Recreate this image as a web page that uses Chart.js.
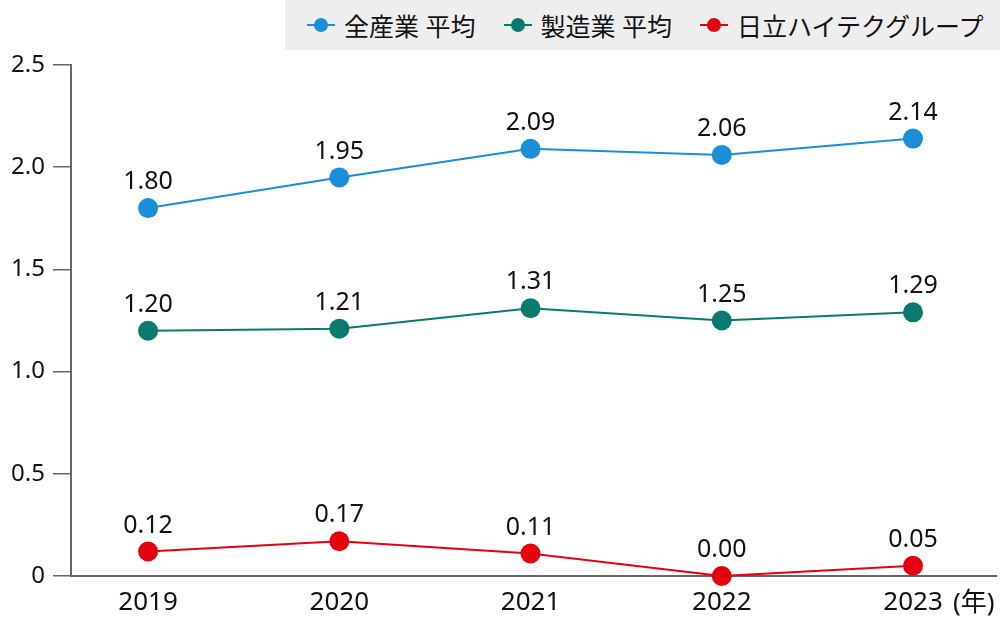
<!DOCTYPE html>
<html>
<head>
<meta charset="utf-8">
<script src="https://cdn.jsdelivr.net/npm/chart.js@4/dist/chart.umd.min.js"></script>
<style>
  html, body { margin: 0; padding: 0; background: #fff; }
  #wrap { position: relative; width: 1000px; height: 621px; font-family: 'Noto Sans', 'Noto Sans CJK JP', sans-serif; }
  #legend { position: absolute; left: 285px; top: 0; width: 715px; height: 50px; background: #eeeeee;
            display: flex; align-items: center; padding-left: 22px; box-sizing: border-box; }
  .item { display: flex; flex: none; white-space: nowrap; align-items: center; margin-right: 28px; font-size: 25px; color: #111; }
  .mk { position: relative; width: 28px; height: 14px; margin-right: 9px; }
  .mk .ln { position: absolute; left: 0; right: 0; top: 6px; height: 2px; }
  .mk .dot { position: absolute; left: 7px; top: 0px; width: 14px; height: 14px; border-radius: 50%; }
</style>
</head>
<body>
<div id="wrap">
  <canvas id="c" width="1000" height="621"></canvas>
  <div id="legend"></div>
</div>
<script>
const years = [2019, 2020, 2021, 2022, 2023];
const allIndustry = [1.80, 1.95, 2.09, 2.06, 2.14];
const manufacturing = [1.20, 1.21, 1.31, 1.25, 1.29];
const hitachiHigh = [0.12, 0.17, 0.11, 0.00, 0.05];
const seriesNames = ['全産業 平均', '製造業 平均', '日立ハイテクグループ'];
const seriesColors = ['#1a8fd8', '#0b7a6e', '#e5000f'];
const yTicks = [0, 0.5, 1.0, 1.5, 2.0, 2.5];
const yearUnit = '(年)';

const font = "'Noto Sans', 'Noto Sans CJK JP', sans-serif";

function mkSet(i, vals) {
    return {
	label: seriesNames[i],
	data: years.map((y, k) => ({x: y, y: vals[k]})),
	borderColor: seriesColors[i],
	backgroundColor: seriesColors[i],
	borderWidth: 2,
	pointRadius: 10,
	pointHoverRadius: 10,
	pointBorderWidth: 0,
	clip: false
    };
}

// value labels above points + the (年) unit after the last year
const labelPlugin = {
    id: 'labels',
    afterDatasetsDraw(chart) {
	const ctx = chart.ctx;
	ctx.save();
	ctx.font = '25px ' + font;
	ctx.fillStyle = '#111';
	ctx.textAlign = 'center';
	ctx.textBaseline = 'middle';
	chart.data.datasets.forEach((ds, i) => {
	    chart.getDatasetMeta(i).data.forEach((pt, k) => {
		ctx.fillText(ds.data[k].y.toFixed(2), pt.x, pt.y - 26);
	    });
	});
	const xs = chart.scales.x;
	const lastX = xs.getPixelForValue(years[years.length - 1]);
	ctx.font = '26px ' + font;
	ctx.textAlign = 'left';
	ctx.fillText(yearUnit, lastX + 40, 604);
	ctx.restore();
    }
};

new Chart(document.getElementById('c'), {
    type: 'line',
    data: {
	datasets: [
	    mkSet(0, allIndustry),
	    mkSet(1, manufacturing),
	    mkSet(2, hitachiHigh)
	]
    },
    options: {
	responsive: false,
	animation: false,
	layout: { autoPadding: false, padding: { top: 65, right: 4, left: 0, bottom: 0 } },
	plugins: { legend: { display: false }, tooltip: { enabled: false } },
	scales: {
	    x: {
		type: 'linear',
		min: 2018.597,
		max: 2023.434,
		afterBuildTicks: a => { a.ticks = years.map(v => ({value: v})); },
		afterFit: a => { a.height = 45; a.paddingLeft = 0; a.paddingRight = 0; },
		grid: { drawOnChartArea: false, drawTicks: false },
		border: { display: true, color: '#666', width: 2 },
		ticks: { padding: 11, color: '#111', font: { family: font, size: 26 }, callback: v => String(v) }
	    },
	    y: {
		min: 0,
		max: 2.5,
		afterBuildTicks: a => { a.ticks = yTicks.map(v => ({value: v})); },
		afterFit: a => { a.width = 71; },
		grid: { drawOnChartArea: false, drawTicks: true, tickLength: 18, color: '#666', lineWidth: 1.5 },
		border: { display: true, color: '#666', width: 2 },
		ticks: { padding: 8, color: '#111', font: { family: font, size: 24 },
			 callback: v => v === 0 ? '0' : v.toFixed(1) }
	    }
	}
    },
    plugins: [labelPlugin]
});

const lg = document.getElementById('legend');
seriesNames.forEach((n, i) => {
    const it = document.createElement('div');
    it.className = 'item';
    it.innerHTML = '<span class="mk"><span class="ln" style="background:' + seriesColors[i] + '"></span>' +
	'<span class="dot" style="background:' + seriesColors[i] + '"></span></span><span></span>';
    it.lastChild.textContent = n;
    lg.appendChild(it);
});
</script>
</body>
</html>
